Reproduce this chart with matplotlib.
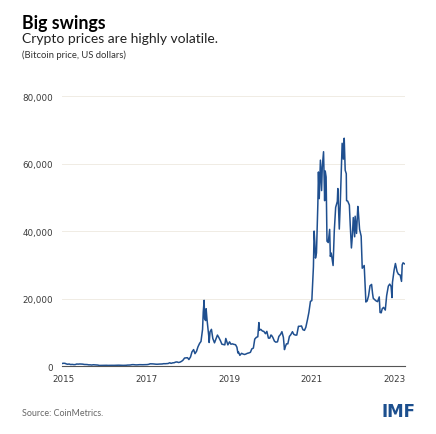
import numpy as np
import pandas as pd
import matplotlib
matplotlib.use("Agg")
import matplotlib.pyplot as plt

plt.rcParams["font.family"] = ["Lato", "DejaVu Sans"]

# Bitcoin price, US dollars (roughly twice a month)
dates = [
    "2014-01-01", "2014-01-15", "2014-02-01", "2014-02-15", "2014-03-01", "2014-03-15",
    "2014-04-01", "2014-04-15", "2014-05-01", "2014-05-15", "2014-06-01", "2014-06-15",
    "2014-07-01", "2014-07-15", "2014-08-01", "2014-08-15", "2014-09-01", "2014-09-15",
    "2014-10-01", "2014-10-15", "2014-11-01", "2014-11-15", "2014-12-01", "2014-12-15",
    "2015-01-01", "2015-01-15", "2015-02-01", "2015-02-15", "2015-03-01", "2015-03-15",
    "2015-04-01", "2015-04-15", "2015-05-01", "2015-05-15", "2015-06-01", "2015-06-15",
    "2015-07-01", "2015-07-15", "2015-08-01", "2015-08-15", "2015-09-01", "2015-09-15",
    "2015-10-01", "2015-10-15", "2015-11-01", "2015-11-15", "2015-12-01", "2015-12-15",
    "2016-01-01", "2016-01-15", "2016-02-01", "2016-02-15", "2016-03-01", "2016-03-15",
    "2016-04-01", "2016-04-15", "2016-05-01", "2016-05-15", "2016-06-01", "2016-06-15",
    "2016-07-01", "2016-07-15", "2016-08-01", "2016-08-15", "2016-09-01", "2016-09-15",
    "2016-10-01", "2016-10-15", "2016-11-01", "2016-11-15", "2016-12-01", "2016-12-15",
    "2017-01-01", "2017-01-15", "2017-02-01", "2017-02-15", "2017-03-01", "2017-03-15",
    "2017-04-01", "2017-04-15", "2017-05-01", "2017-05-15", "2017-06-01", "2017-06-15",
    "2017-07-01", "2017-07-15", "2017-08-01", "2017-08-15", "2017-09-01", "2017-09-15",
    "2017-10-01", "2017-10-15", "2017-11-01", "2017-11-15", "2017-12-01", "2017-12-08",
    "2017-12-17", "2017-12-22",
    "2018-01-01", "2018-01-06", "2018-01-15", "2018-02-01", "2018-02-06", "2018-02-15",
    "2018-03-01", "2018-03-15", "2018-04-01", "2018-04-15", "2018-05-01", "2018-05-15",
    "2018-06-01", "2018-06-15", "2018-07-01", "2018-07-15", "2018-07-25", "2018-08-01",
    "2018-08-15", "2018-09-01", "2018-09-15", "2018-10-01", "2018-10-15", "2018-11-01",
    "2018-11-15", "2018-11-25", "2018-12-01", "2018-12-15",
    "2019-01-01", "2019-01-15", "2019-02-01", "2019-02-15", "2019-03-01", "2019-03-15",
    "2019-04-01", "2019-04-15", "2019-05-01", "2019-05-15", "2019-06-01", "2019-06-15",
    "2019-06-26", "2019-07-01", "2019-07-15", "2019-08-01", "2019-08-15", "2019-09-01",
    "2019-09-15", "2019-10-01", "2019-10-15", "2019-10-26", "2019-11-01", "2019-11-15",
    "2019-12-01", "2019-12-15",
    "2020-01-01", "2020-01-15", "2020-02-01", "2020-02-15", "2020-03-01", "2020-03-12",
    "2020-03-15", "2020-04-01", "2020-04-15", "2020-05-01", "2020-05-15", "2020-06-01",
    "2020-06-15", "2020-07-01", "2020-07-15", "2020-08-01", "2020-08-15", "2020-09-01",
    "2020-09-15", "2020-10-01", "2020-10-15", "2020-11-01", "2020-11-15", "2020-12-01",
    "2020-12-15",
    "2021-01-01", "2021-01-08", "2021-01-15", "2021-01-22", "2021-02-01", "2021-02-15",
    "2021-02-21", "2021-03-01", "2021-03-13", "2021-03-25", "2021-04-01", "2021-04-14",
    "2021-04-25", "2021-05-01", "2021-05-10", "2021-05-19", "2021-06-01", "2021-06-15",
    "2021-06-22", "2021-07-01", "2021-07-20", "2021-08-01", "2021-08-15", "2021-09-01",
    "2021-09-06", "2021-09-21", "2021-10-01", "2021-10-20", "2021-11-01", "2021-11-10",
    "2021-11-20", "2021-12-01", "2021-12-04", "2021-12-15",
    "2022-01-01", "2022-01-10", "2022-01-22", "2022-02-01", "2022-02-10", "2022-02-24",
    "2022-03-01", "2022-03-15", "2022-03-28", "2022-04-01", "2022-04-15", "2022-05-01",
    "2022-05-12", "2022-05-20", "2022-06-01", "2022-06-18", "2022-07-01", "2022-07-15",
    "2022-07-30", "2022-08-15", "2022-08-25", "2022-09-01", "2022-09-15", "2022-10-01",
    "2022-10-15", "2022-11-01", "2022-11-09", "2022-11-21", "2022-12-01", "2022-12-15",
    "2023-01-01", "2023-01-15", "2023-02-01", "2023-02-15", "2023-03-01", "2023-03-10",
    "2023-03-15", "2023-04-01", "2023-04-14", "2023-05-01", "2023-05-15", "2023-06-01",
    "2023-06-15", "2023-06-22", "2023-07-01", "2023-07-15",
]
prices = [
    770, 850, 830, 650, 560, 630, 470, 520, 450, 450, 630, 590,
    640, 620, 590, 500, 480, 470, 380, 390, 330, 410, 380, 350,
    315, 210, 225, 235, 260, 285, 245, 220, 235, 237, 225, 235,
    260, 285, 280, 260, 228, 230, 237, 255, 315, 320, 360, 440,
    434, 385, 372, 405, 433, 416, 416, 430, 450, 455, 536, 690,
    676, 665, 606, 570, 572, 607, 613, 638, 730, 712, 750, 780,
    1000, 820, 980, 1010, 1190, 1250, 1080, 1180, 1420, 1730, 2400, 2450,
    2500, 1950, 2740, 4200, 4900, 3700, 4400, 5700, 6750, 7300, 10900, 16000,
    19500, 14000,
    13500, 17000, 13800, 9100, 7000, 10200, 10900, 8200, 6900, 8000, 9200, 8500,
    7500, 6500, 6400, 6300, 8200, 7600, 6300, 7200, 6500, 6600, 6450, 6350,
    5600, 3900, 4200, 3200,
    3800, 3600, 3450, 3600, 3800, 3900, 4100, 5100, 5350, 8000, 8550, 8700,
    12900, 10600, 10900, 10400, 10300, 9600, 10300, 8300, 8300, 9200, 9150, 8500,
    7400, 7100,
    7200, 8800, 9400, 10200, 8500, 4900, 5300, 6600, 6600, 8800, 9300, 10200,
    9400, 9200, 9200, 11800, 11800, 11900, 10800, 10600, 11500, 13800, 15900, 19200,
    19400,
    29400, 40000, 36800, 32000, 33500, 48000, 57500, 49600, 61000, 52000, 59000, 63500,
    49000, 57800, 56000, 37000, 36600, 40500, 32500, 33500, 29800, 40000, 47000, 48800,
    52600, 40600, 48200, 66000, 61300, 67500, 58000, 57000, 49000, 48900,
    47700, 41800, 35000, 38700, 44000, 38300, 44400, 39300, 47300, 46300, 40500, 38500,
    29000, 29300, 29800, 19000, 19300, 20800, 23800, 24200, 21500, 20100, 19700, 19300,
    19100, 20500, 15900, 15800, 17000, 17400,
    16600, 20900, 23700, 24300, 23600, 20300, 24800, 28500, 30400, 28000, 27200, 27000,
    25100, 30000, 30600, 30300,
]

y_ticks = [0, 20000, 40000, 60000, 80000]
x_tick_labels = ["2015", "2017", "2019", "2021", "2023"]

d = pd.to_datetime(dates)
x = d.year + (d.dayofyear - 1) / 365.25

fig = plt.figure(figsize=(4.36, 4.35), dpi=100)
ax = fig.add_axes([0.142, 0.156, 0.787, 0.621])

ax.plot(x, prices, color="#1f4f8f", lw=1.1)

ax.set_ylim(0, 80000)
ax.set_xlim(2014.0, 2023.55)
ax.set_yticks(y_ticks)
ax.set_yticklabels([f"{v:,}" for v in y_ticks], family="DejaVu Sans", fontsize=6.3)
ax.set_xticks(np.linspace(2014.05, 2023.25, len(x_tick_labels)))
ax.set_xticklabels(x_tick_labels, family="DejaVu Sans", fontsize=6.3)
ax.tick_params(length=0, labelcolor="#3a3a3a")
ax.tick_params(axis="x", pad=6)
ax.tick_params(axis="y", pad=6.5)
for s in ["top", "right", "left"]:
    ax.spines[s].set_visible(False)
ax.spines["bottom"].set_color("#555555")
ax.spines["bottom"].set_linewidth(0.8)
ax.grid(axis="y", color="#f0ece4", lw=0.7)
ax.set_axisbelow(True)

fig.text(0.05, 0.933, "Big swings", fontsize=12.8, fontweight="bold", color="black", va="baseline")
fig.text(0.05, 0.901, "Crypto prices are highly volatile.", fontsize=10, color="#222222", va="baseline")
fig.text(0.05, 0.866, "(Bitcoin price, US dollars)", fontsize=6.8, color="#333333", va="baseline")
fig.text(0.05, 0.044, "Source: CoinMetrics.", fontsize=6.4, color="#666666", va="baseline")
fig.text(0.952, 0.041, "IMF", fontsize=12, fontweight="bold", color="#1c4f8e", va="baseline",
         ha="right", family="DejaVu Sans")

fig.savefig("out.png", dpi=100)
